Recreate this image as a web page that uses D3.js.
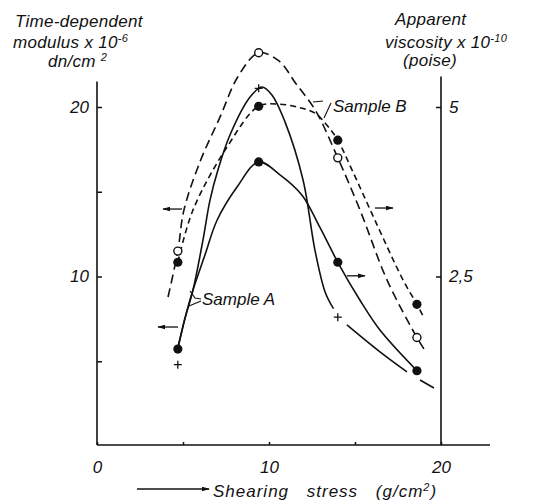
<!DOCTYPE html>
<html>
<head>
<meta charset="utf-8">
<script src="https://cdn.jsdelivr.net/npm/d3@7"></script>
<style>
  body { margin: 0; background: #fff; }
  svg text { font-family: "Liberation Sans", Arial, sans-serif; font-style: italic; fill: #111; }
</style>
</head>
<body>
<svg id="chart" width="533" height="502"></svg>
<script>
// measured points (x = shearing stress g/cm2)
var stress = [4.7, 9.4, 14.0, 18.6];
var modulusB = [11.5, 23.2, 17.0, 6.4];     // open circles, x10^-6 dn/cm2
var modulusA = [4.8, 21.1, 7.6];            // crosses, x10^-6 dn/cm2
var viscosityB = [2.71, 5.01, 4.51, 2.09];  // filled circles on dashed line, x10^-10 poise
var viscosityA = [1.43, 4.19, 2.71, 1.11];  // filled circles on solid line, x10^-10 poise

// hand drawn curves [stress, value]
var curveModB = [[4.13, 8.79], [4.7, 11.5], [5.05, 13.9], [6.0, 16.8], [7.15, 19.4], [8.2, 21.8], [9.4, 23.2],
  [10.6, 22.7], [11.55, 21.4], [12.7, 19.8], [14.0, 17.0], [15.3, 13.9], [16.86, 9.8], [18.6, 6.4], [19.01, 5.72]];
var curveVisB = [[4.7, 2.71], [5.58, 3.48], [7.56, 4.41], [9.4, 5.01], [10.64, 5.04], [11.8, 4.99], [12.67, 4.91],
  [13.37, 4.73], [14.0, 4.51], [14.83, 4.07], [16.16, 3.33], [17.79, 2.45], [18.6, 2.09], [19.01, 1.89]];
var curveVisA = [[4.7, 1.43], [5.12, 1.89], [5.58, 2.30], [6.28, 2.82], [6.98, 3.33], [8.14, 3.82], [9.4, 4.19],
  [10.64, 4.00], [11.92, 3.70], [12.97, 3.22], [14.0, 2.71], [15.29, 2.15], [16.45, 1.71], [18.6, 1.11]];
var curveModA = [[4.7, 5.8], [5.12, 7.55], [5.58, 9.20], [6.16, 12.15], [6.57, 14.51], [7.03, 16.28], [7.73, 18.35],
  [8.9, 20.59], [9.59, 21.18], [10.17, 20.71], [10.93, 19.12], [11.98, 15.69], [12.67, 11.56], [13.26, 9.09], [13.75, 8.1]];
var tailModA = [[14.53, 7.14], [16.45, 5.55], [18.02, 4.37]];
var tailModADashed = [[18.78, 3.89], [19.59, 3.42]];

// axis ticks
var xTicks = [0, 5, 10, 15, 20];
var leftTicks = [5, 10, 15, 20];
var rightTicks = [2.5, 5];

var svg = d3.select("#chart");
var ink = "#111";

var x = d3.scaleLinear().domain([0, 20]).range([97, 441]);
var yL = d3.scaleLinear().domain([0, 20]).range([446, 107]);
var yR = d3.scaleLinear().domain([0, 5]).range([446, 107]);

// axes, ticks pointing inwards
var gx = svg.append("g").attr("transform", "translate(0,445)")
  .call(d3.axisBottom(x).tickValues(xTicks).tickSize(-3).tickPadding(16)
    .tickFormat(function(d) { return d % 10 === 0 ? d : ""; }));
var gl = svg.append("g").attr("transform", "translate(97,0)")
  .call(d3.axisLeft(yL).tickValues(leftTicks).tickSize(-5).tickPadding(8)
    .tickFormat(function(d) { return d % 10 === 0 ? d : ""; }));
var gr = svg.append("g").attr("transform", "translate(441,0)")
  .call(d3.axisRight(yR).tickValues(rightTicks).tickSize(-5).tickPadding(8)
    .tickFormat(function(d) { return String(d).replace(".", ","); }));

[gx, gl, gr].forEach(function(g) {
  g.select(".domain").remove();
  g.selectAll("line").attr("stroke", ink).attr("stroke-width", 1.5);
  g.selectAll("text").attr("font-size", 17).attr("font-family", null).attr("fill", ink);
});

// axis lines (extend a bit past the scales like the original)
svg.append("line").attr("x1", x(0)).attr("x2", x(0)).attr("y1", 445).attr("y2", yL(21.5))
  .attr("stroke", ink).attr("stroke-width", 1.6);
svg.append("line").attr("x1", x(20)).attr("x2", x(20)).attr("y1", 445).attr("y2", yR(5.45))
  .attr("stroke", ink).attr("stroke-width", 1.6);
svg.append("line").attr("x1", x(0)).attr("x2", x(22.85)).attr("y1", 445).attr("y2", 445)
  .attr("stroke", ink).attr("stroke-width", 1.6);

// curves
function lineFor(y) {
  return d3.line().x(function(d) { return x(d[0]); }).y(function(d) { return y(d[1]); })
    .curve(d3.curveCatmullRom.alpha(0.5));
}
function drawCurve(pts, y, dash) {
  svg.append("path").datum(pts).attr("d", lineFor(y)).attr("fill", "none")
    .attr("stroke", ink).attr("stroke-width", 1.6).attr("stroke-dasharray", dash || null);
}
drawCurve(curveModB, yL, "9,5");
drawCurve(curveVisB, yR, "6,4");
drawCurve(curveVisA, yR);
drawCurve(curveModA, yL);
drawCurve(tailModA, yL);
drawCurve(tailModADashed, yL);

// markers
function pairs(vals) { return vals.map(function(v, i) { return [stress[i], v]; }); }

svg.selectAll(".visA").data(pairs(viscosityA)).enter().append("circle")
  .attr("cx", function(d) { return x(d[0]); }).attr("cy", function(d) { return yR(d[1]); })
  .attr("r", 4.6).attr("fill", ink);
svg.selectAll(".visB").data(pairs(viscosityB)).enter().append("circle")
  .attr("cx", function(d) { return x(d[0]); }).attr("cy", function(d) { return yR(d[1]); })
  .attr("r", 4.6).attr("fill", ink);
svg.selectAll(".modB").data(pairs(modulusB)).enter().append("circle")
  .attr("cx", function(d) { return x(d[0]); }).attr("cy", function(d) { return yL(d[1]); })
  .attr("r", 4).attr("fill", "#fff").attr("stroke", ink).attr("stroke-width", 1.4);
svg.selectAll(".modA").data(pairs(modulusA)).enter().append("path")
  .attr("d", function(d) {
    var cx = x(d[0]), cy = yL(d[1]);
    return "M" + (cx - 4) + "," + cy + "H" + (cx + 4) + "M" + cx + "," + (cy - 4) + "V" + (cy + 4);
  })
  .attr("stroke", ink).attr("stroke-width", 1.3);

// little arrows telling which axis a curve belongs to
svg.append("defs").append("marker").attr("id", "head")
  .attr("viewBox", "0 0 10 6").attr("refX", 9).attr("refY", 3)
  .attr("markerWidth", 8).attr("markerHeight", 5).attr("markerUnits", "userSpaceOnUse")
  .attr("orient", "auto")
  .append("path").attr("d", "M0,0L10,3L0,6z").attr("fill", ink);

var arrows = [
  { from: [4.94, 13.98], to: [3.84, 13.98], y: yL },
  { from: [4.71, 7.02], to: [3.55, 7.02], y: yL },
  { from: [16.16, 3.51], to: [17.21, 3.51], y: yR },
  { from: [14.53, 2.51], to: [15.58, 2.51], y: yR }
];
arrows.forEach(function(a) {
  svg.append("line").attr("x1", x(a.from[0])).attr("y1", a.y(a.from[1]))
    .attr("x2", x(a.to[0])).attr("y2", a.y(a.to[1]))
    .attr("stroke", ink).attr("stroke-width", 1.3).attr("marker-end", "url(#head)");
});

// sample labels with their brackets
svg.append("text").attr("x", 202).attr("y", 305).attr("font-size", 17).text("Sample A");
svg.append("path").attr("d", "M190,291L195,298L201,299M201,301L189,306")
  .attr("fill", "none").attr("stroke", ink).attr("stroke-width", 1.1);
svg.append("text").attr("x", 333).attr("y", 112).attr("font-size", 17).text("Sample B");
svg.append("path").attr("d", "M313,102L323,101M324,118L331,103")
  .attr("fill", "none").attr("stroke", ink).attr("stroke-width", 1.1);

// axis titles
function title(xp, yp, main, sup) {
  var t = svg.append("text").attr("x", xp).attr("y", yp).attr("font-size", 17)
    .attr("letter-spacing", 0.3).text(main);
  if (sup) t.append("tspan").attr("dy", -6).attr("font-size", 11).text(sup);
  return t;
}
title(15, 27, "Time-dependent");
title(13, 48, "modulus x 10", "-6");
title(48, 67, "dn/cm ", "2");
title(395, 25, "Apparent");
title(385, 48, "viscosity x 10", "-10");
title(403, 66, "(poise)");

svg.append("line").attr("x1", 137).attr("x2", 209).attr("y1", 489).attr("y2", 489)
  .attr("stroke", ink).attr("stroke-width", 1.3).attr("marker-end", "url(#head)");
var xl = svg.append("text").attr("x", 213).attr("y", 497).attr("font-size", 17)
  .attr("letter-spacing", 1).attr("word-spacing", 12).text("Shearing stress (g/cm");
xl.append("tspan").attr("dy", -6).attr("font-size", 11).text("2");
xl.append("tspan").attr("dy", 6).text(")");
</script>
</body>
</html>
